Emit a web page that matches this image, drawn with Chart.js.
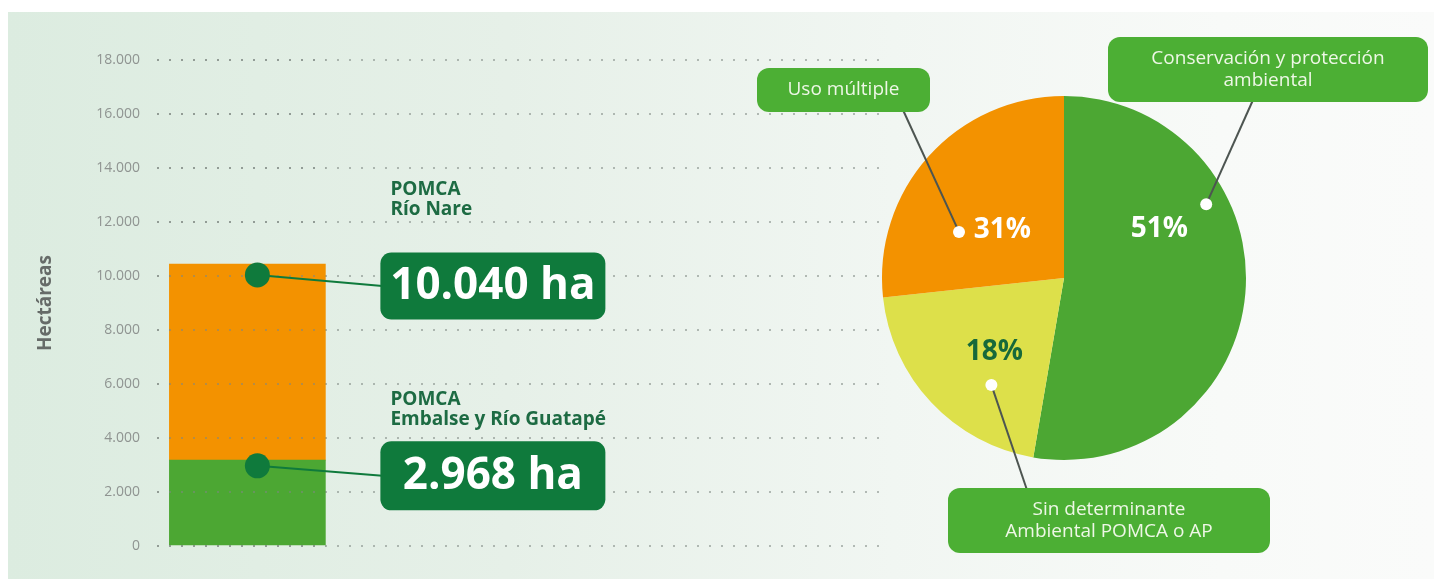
<!DOCTYPE html>
<html lang="es">
<head>
<meta charset="utf-8">
<title>Hectáreas POMCA y determinantes ambientales</title>
<script src="https://cdn.jsdelivr.net/npm/chart.js@4.4.0/dist/chart.umd.min.js"></script>
<style>
  html, body { margin: 0; padding: 0; width: 1434px; height: 587px; overflow: hidden; background: #fff; }
  .panel {
    position: absolute; left: 8px; top: 12px; right: 0; bottom: 8px;
    background: linear-gradient(90deg, #dcece0 0%, #e6f0e8 35%, #f1f6f2 62%, #f8faf8 85%, #fafbfa 100%);
  }
  #barWrap { position: absolute; left: 0; top: 0; width: 880px; height: 587px; }
  #pieWrap { position: absolute; left: 700px; top: 0; width: 734px; height: 587px; }
</style>
</head>
<body>
<div class="panel"></div>
<div id="barWrap"><canvas id="barChart" width="880" height="587"></canvas></div>
<div id="pieWrap"><canvas id="pieChart" width="734" height="587"></canvas></div>

<script>
// --- data ---
const barSlots = ['POMCA', '', '', ''];            // one bar, rest of the axis left empty
const guatapeValues = [3180];                      // green segment (ha)
const nareValues = [7260];                         // orange segment stacked on top (ha)
const markerValues = [10040, 2968];                // dots on the bar
const markerTexts = ['10.040 ha', '2.968 ha'];
const markerTitles = [['POMCA', 'Río Nare'], ['POMCA', 'Embalse y Río Guatapé']];
const yTicks = { min: 0, max: 18000, step: 2000 };

const pieCategories = ['Conservación y protección ambiental', 'Sin determinante Ambiental POMCA o AP', 'Uso múltiple'];
const pieShares = [52.7, 20.6, 26.7];              // slice sizes as drawn
const piePercentTexts = ['51%', '18%', '31%'];

// --- colours ---
const GREEN = '#4ca733';
const ORANGE = '#f39200';
const YELLOW = '#dde04a';
const DARK_GREEN = '#0f7a3c';
const GRID = 'rgba(125,135,130,0.55)';
const FONT = '"Open Sans", sans-serif';

// callout boxes next to the bar (left edge relative to bar right edge)
const barCallouts = [
  { gap: 55, w: 225, h: 67, dy: 11, titleDy: [-57, -37] },
  { gap: 55, w: 225, h: 69, dy: 10, titleDy: [-36, -16] }
];

function roundRect(ctx, x, y, w, h, r) {
  ctx.beginPath();
  ctx.moveTo(x + r, y);
  ctx.arcTo(x + w, y, x + w, y + h, r);
  ctx.arcTo(x + w, y + h, x, y + h, r);
  ctx.arcTo(x, y + h, x, y, r);
  ctx.arcTo(x, y, x + w, y, r);
  ctx.closePath();
}

// the dotted grid runs over the bar in the original: redraw it across the bar
const gridOnTop = {
  id: 'gridOnTop',
  afterDatasetsDraw(chart) {
    const { ctx, chartArea } = chart;
    const y = chart.scales.y;
    const bar = chart.getDatasetMeta(0).data[0];
    const x0 = chartArea.left;
    const x1 = bar.x + bar.width / 2;
    ctx.save();
    ctx.strokeStyle = GRID;
    ctx.lineWidth = 2;
    ctx.setLineDash([2, 10]);
    y.ticks.forEach(t => {
      const py = Math.round(y.getPixelForValue(t.value));
      ctx.beginPath();
      ctx.moveTo(x0, py);
      ctx.lineTo(x1, py);
      ctx.stroke();
    });
    ctx.restore();
  }
};

const barAnnotations = {
  id: 'barAnnotations',
  afterDraw(chart) {
    const ctx = chart.ctx;
    const y = chart.scales.y;
    const bar = chart.getDatasetMeta(0).data[0];
    const barRight = bar.x + bar.width / 2;
    const dotX = bar.x + 10;

    markerValues.forEach((v, i) => {
      const c = barCallouts[i];
      const dotY = y.getPixelForValue(v);
      const bx = barRight + c.gap;
      const by = dotY + c.dy - c.h / 2;

      ctx.save();
      ctx.strokeStyle = DARK_GREEN;
      ctx.lineWidth = 2;
      ctx.beginPath();
      ctx.moveTo(dotX, dotY);
      ctx.lineTo(bx + 2, by + c.h / 2);
      ctx.stroke();

      ctx.fillStyle = DARK_GREEN;
      ctx.beginPath();
      ctx.arc(dotX, dotY, 12.5, 0, Math.PI * 2);
      ctx.fill();

      roundRect(ctx, bx, by, c.w, c.h, 11);
      ctx.fill();

      ctx.fillStyle = '#ffffff';
      ctx.font = 'bold 44px ' + FONT;
      ctx.textAlign = 'center';
      ctx.textBaseline = 'middle';
      ctx.fillText(markerTexts[i], bx + c.w / 2, by + c.h / 2 + 1);

      ctx.fillStyle = '#1d6b43';
      ctx.font = 'bold 19px ' + FONT;
      ctx.textAlign = 'left';
      ctx.textBaseline = 'alphabetic';
      markerTitles[i].forEach((t, j) => ctx.fillText(t, bx + 10, by + c.titleDy[j]));
      ctx.restore();
    });
  }
};

new Chart(document.getElementById('barChart'), {
  type: 'bar',
  data: {
    labels: barSlots,
    datasets: [
      { label: 'POMCA Embalse y Río Guatapé', data: guatapeValues, backgroundColor: GREEN, barThickness: 156, borderWidth: 0 },
      { label: 'POMCA Río Nare', data: nareValues, backgroundColor: ORANGE, barThickness: 156, borderWidth: 0 }
    ]
  },
  options: {
    responsive: false,
    animation: false,
    layout: { padding: { left: 34, top: 60, bottom: 41, right: 0 } },
    plugins: { legend: { display: false }, tooltip: { enabled: false } },
    scales: {
      x: { stacked: true, display: false },
      y: {
        stacked: true,
        min: yTicks.min,
        max: yTicks.max,
        ticks: {
          stepSize: yTicks.step,
          padding: 17,
          color: '#8f9491',
          font: { size: 14, family: FONT },
          callback: v => v.toLocaleString('de-DE')
        },
        grid: { color: GRID, lineWidth: 2, drawTicks: false },
        border: { display: false, dash: [2, 10] },
        title: { display: true, text: 'Hectáreas', color: '#666b68', font: { size: 19, weight: 'bold', family: FONT }, padding: 0 },
        afterFit(scale) { scale.width = 123; }
      }
    }
  },
  plugins: [gridOnTop, barAnnotations]
});

// pie label placement: t = fraction along the slice (clockwise), r = fraction of radius
const pieLabelPos = [
  { text: { t: 0.33, r: 0.59 }, dot: { t: 0.33, r: 0.88 }, color: '#ffffff' },
  { text: { t: 0.45, r: 0.56 }, dot: { t: 0.33, r: 0.71 }, color: '#17693a' },
  { text: { t: 0.46, r: 0.43 }, dot: { t: 0.31, r: 0.63 }, color: '#ffffff' }
];
// callout boxes in page pixels, with leader end point on the box edge
const pieCallouts = [
  { x: 1108, y: 37, w: 320, h: 65, lines: ['Conservación y protección', 'ambiental'], end: [1253, 100] },
  { x: 948, y: 488, w: 322, h: 65, lines: ['Sin determinante', 'Ambiental POMCA o AP'], end: [1027, 490] },
  { x: 757, y: 68, w: 173, h: 44, lines: ['Uso múltiple'], end: [903, 110] }
];

const pieAnnotations = {
  id: 'pieAnnotations',
  afterDraw(chart) {
    const ctx = chart.ctx;
    const off = chart.canvas.parentNode.offsetLeft;
    const arcs = chart.getDatasetMeta(0).data;
    const at = (arc, p) => {
      const a = arc.startAngle + p.t * (arc.endAngle - arc.startAngle);
      const r = arc.outerRadius * p.r;
      return [arc.x + Math.cos(a) * r, arc.y + Math.sin(a) * r];
    };
    ctx.save();
    arcs.forEach((arc, i) => {
      const pos = pieLabelPos[i];
      const c = pieCallouts[i];
      const [dx, dy] = at(arc, pos.dot);

      ctx.strokeStyle = '#4d5551';
      ctx.lineWidth = 2;
      ctx.beginPath();
      ctx.moveTo(dx, dy);
      ctx.lineTo(c.end[0] - off, c.end[1]);
      ctx.stroke();

      ctx.fillStyle = '#4caf34';
      roundRect(ctx, c.x - off, c.y, c.w, c.h, 12);
      ctx.fill();

      ctx.fillStyle = '#eef7e6';
      ctx.font = '19px ' + FONT;
      ctx.textAlign = 'center';
      ctx.textBaseline = 'middle';
      const lh = 22;
      const cy = c.y + c.h / 2 - (c.lines.length - 1) * lh / 2;
      c.lines.forEach((l, j) => ctx.fillText(l, c.x - off + c.w / 2, cy + j * lh));

      ctx.fillStyle = '#ffffff';
      ctx.beginPath();
      ctx.arc(dx, dy, 6, 0, Math.PI * 2);
      ctx.fill();

      const [tx, ty] = at(arc, pos.text);
      ctx.fillStyle = pos.color;
      ctx.font = 'bold 28px ' + FONT;
      ctx.fillText(piePercentTexts[i], tx, ty);
    });
    ctx.restore();
  }
};

new Chart(document.getElementById('pieChart'), {
  type: 'pie',
  data: {
    labels: pieCategories,
    datasets: [{ data: pieShares, backgroundColor: [GREEN, YELLOW, ORANGE], borderWidth: 0 }]
  },
  options: {
    responsive: false,
    animation: false,
    layout: { padding: { left: 182, right: 188, top: 96, bottom: 127 } },
    plugins: { legend: { display: false }, tooltip: { enabled: false } }
  },
  plugins: [pieAnnotations]
});
</script>
</body>
</html>
